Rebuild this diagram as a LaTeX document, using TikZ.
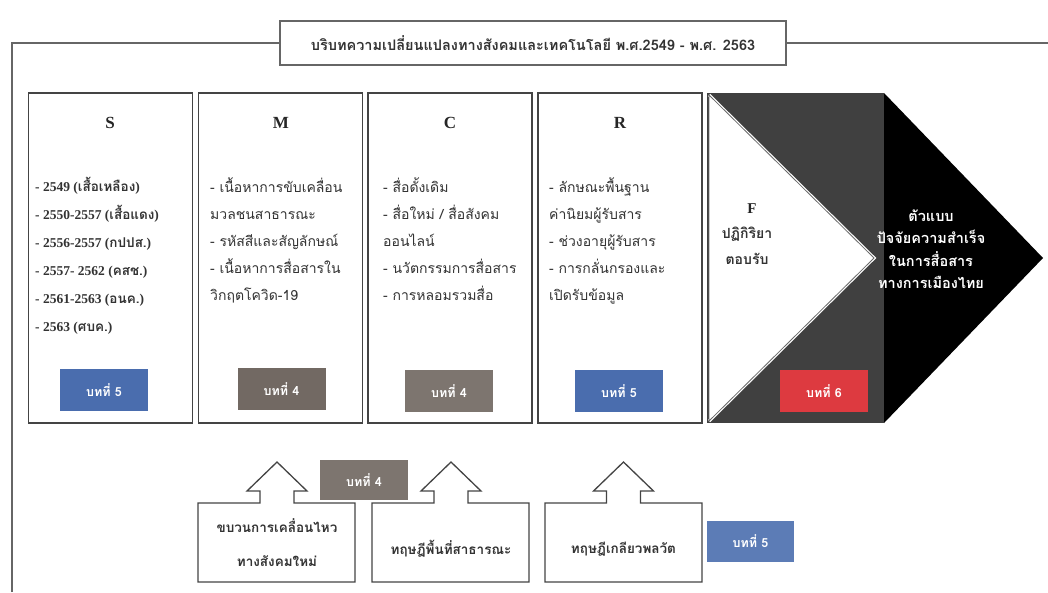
\documentclass[tikz,border=0pt]{standalone}
\usepackage{fontspec}
\setmainfont{Liberation Serif}
\newfontfamily\thaifont[Script=Thai]{Loma}
\newcommand{\T}[1]{{\thaifont #1}}
\definecolor{framegray}{HTML}{666666}
\definecolor{boxgray}{HTML}{444444}
\definecolor{panelgray}{HTML}{404040}
\definecolor{txtgray}{HTML}{333333}
\definecolor{bblue}{HTML}{4A6DAE}
\definecolor{bbrown}{HTML}{726963}
\definecolor{bred}{HTML}{DD3A40}
\begin{document}
\begin{tikzpicture}[x=1pt,y=-1pt,
  frame/.style={draw=framegray, line width=1.3pt},
  panel/.style={draw=boxgray, line width=1.4pt, fill=white},
  head/.style={font=\bfseries\fontsize{17}{17}\selectfont, text=black!85},
  listtxt/.style={anchor=north west, align=left, inner sep=0pt, text=txtgray,
    font=\thaifont\fontsize{14}{27}\selectfont},
  badge/.style={minimum width=88pt, minimum height=42pt, inner sep=0pt, text=white,
    font=\thaifont\bfseries\fontsize{12.5}{14}\selectfont},
  theory/.style={draw=boxgray, line width=1.3pt, fill=white, line join=miter},
  theorytxt/.style={align=center, text=txtgray, font=\thaifont\bfseries\fontsize{13.5}{34}\selectfont}
]
\useasboundingbox (0,0) rectangle (1048,592);

% title box and the enclosing frame line
\node[draw=framegray, line width=1.3pt, fill=white, minimum width=506pt, minimum height=44pt, inner sep=0pt,
  font=\thaifont\bfseries\fontsize{14.5}{16}\selectfont, text=txtgray] (title) at (533,43)
  {บริบทความเปลี่ยนแปลงทางสังคมและเทคโนโลยี พ.ศ.2549 - พ.ศ. 2563};
\coordinate (frameBL) at (12,592);
\coordinate (frameR) at (1048,43);
\draw[frame] (frameBL) |- (title.west);
\draw[frame] (title.east) -- (frameR);

% four S-M-C-R panels
\node[panel, minimum width=164pt, minimum height=330pt, inner sep=0pt] (S) at (110.5,258) {};
\node[panel, minimum width=164pt, minimum height=330pt, inner sep=0pt] (M) at (280.5,258) {};
\node[panel, minimum width=164pt, minimum height=330pt, inner sep=0pt] (C) at (450,258) {};
\node[panel, minimum width=164pt, minimum height=330pt, inner sep=0pt] (R) at (620,258) {};

\node[head] (Sh) at (110,123) {S};
\node[head] (Mh) at (281,123) {M};
\node[head] (Ch) at (450,123) {C};
\node[head] (Rh) at (620,123) {R};

\node[listtxt, font=\bfseries\fontsize{13.5}{28}\selectfont] (Sl) at (35,177) {%
- 2549 (\T{เสื้อเหลือง})\\
- 2550-2557 (\T{เสื้อแดง})\\
- 2556-2557 (\T{กปปส.})\\
- 2557- 2562 (\T{คสช.})\\
- 2561-2563 (\T{อนค.})\\
- 2563 (\T{ศบค.})};

\node[listtxt] (Ml) at (210,177) {%
- เนื้อหาการขับเคลื่อน\\
มวลชนสาธารณะ\\
- รหัสสีและสัญลักษณ์\\
- เนื้อหาการสื่อสารใน\\
วิกฤตโควิด-19};

\node[listtxt] (Cl) at (383,177) {%
- สื่อดั้งเดิม\\
- สื่อใหม่ / สื่อสังคม\\
ออนไลน์\\
- นวัตกรรมการสื่อสาร\\
- การหลอมรวมสื่อ};

\node[listtxt] (Rl) at (549,177) {%
- ลักษณะพื้นฐาน\\
ค่านิยมผู้รับสาร\\
- ช่วงอายุผู้รับสาร\\
- การกลั่นกรองและ\\
เปิดรับข้อมูล};

% F panel: dark block, black arrow point, white chevron
\coordinate (Fa) at (707,93);
\coordinate (Fb) at (884,423);
\coordinate (Fc) at (884,93);
\coordinate (Ftip) at (1043,258);
\coordinate (Fd) at (884,423);
\fill[panelgray] (Fa) rectangle (Fb);
\fill[black] (Fc) -- (Ftip) -- (Fd) -- cycle;
\coordinate (Wt) at (709,95);
\coordinate (Wp) at (874,258);
\coordinate (Wb) at (709,421);
\draw[white, line width=3.2pt, line join=miter] (Wt) -- (Wp) -- (Wb);
\filldraw[fill=white, draw=boxgray!80, line width=0.8pt, line join=miter] (Wt) -- (Wp) -- (Wb) -- cycle;

\node[font=\bfseries\fontsize{15}{15}\selectfont, text=black!85] (Fh) at (752,209) {F};
\node[align=center, text=txtgray, font=\thaifont\bfseries\fontsize{14}{26}\selectfont] (Fl) at (747,246)
  {ปฏิกิริยา\\ตอบรับ};
\node[align=center, text=white, font=\thaifont\bfseries\fontsize{14.5}{22.5}\selectfont] (model) at (931,249)
  {ตัวแบบ\\ปัจจัยความสำเร็จ\\ในการสื่อสาร\\ทางการเมืองไทย};

% chapter badges
\node[badge, fill=bblue] (b1) at (104,390) {บทที่ 5};
\node[badge, fill=bbrown] (b2) at (281.5,389) {บทที่ 4};
\node[badge, fill=bbrown!92!white] (b3) at (449,391) {บทที่ 4};
\node[badge, fill=bblue] (b4) at (619,391) {บทที่ 5};
\node[badge, fill=bred] (b5) at (824,391) {บทที่ 6};

% theory boxes with upward block arrows
\foreach \x/\cx/\nm in {198/277/t1, 372/451/t2, 545/623.5/t3}{
  \pgfmathsetmacro{\xr}{\x+157}
  \draw[theory] (\x,503) -- (\cx-17,503) -- (\cx-17,491) -- (\cx-30,491) -- (\cx,462)
    -- (\cx+30,491) -- (\cx+17,491) -- (\cx+17,503) -- (\xr,503) -- (\xr,582) -- (\x,582) -- cycle;
  \coordinate (\nm) at (\cx,543);
}
\node[theorytxt] (t1l) at (t1) {ขบวนการเคลื่อนไหว\\ทางสังคมใหม่};
\node[theorytxt] (t2l) at ([yshift=-6]t2) {ทฤษฎีพื้นที่สาธารณะ};
\node[theorytxt] (t3l) at ([yshift=-6]t3) {ทฤษฎีเกลียวพลวัต};

\node[badge, fill=bbrown!92!white, minimum height=40pt] (b6) at (364,480) {บทที่ 4};
\node[badge, fill=bblue!90!white, minimum width=87pt, minimum height=41pt] (b7) at (750.5,541.5) {บทที่ 5};
\end{tikzpicture}
\end{document}
